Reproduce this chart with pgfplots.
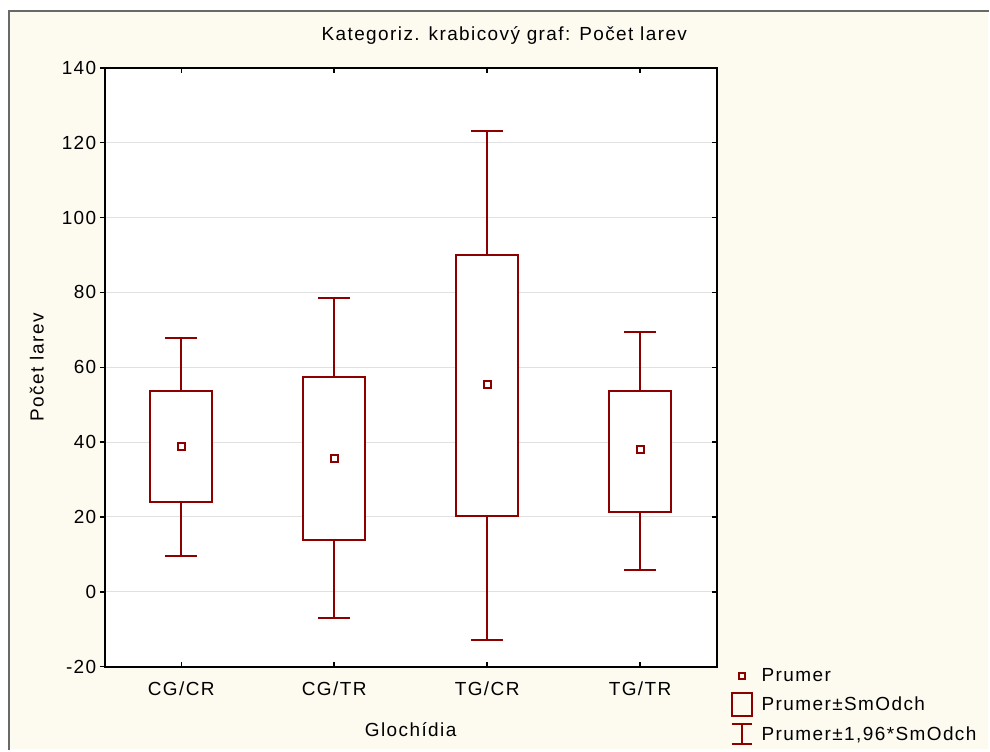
\documentclass[border=0pt]{standalone}
\usepackage{fontspec}
\setmainfont[LetterSpace=7.5]{Liberation Sans}
\usepackage{pgfplots}
\pgfplotsset{compat=1.18}
\definecolor{dred}{RGB}{140,0,0}
\definecolor{cream}{RGB}{253,250,240}
\definecolor{framec}{RGB}{105,105,105}
\definecolor{gridc}{RGB}{225,225,225}
\newcommand\ff{\fontsize{19}{23}\selectfont}
\begin{document}
\begin{tikzpicture}
\fill[white] (-105pt,-83pt) rectangle (885pt,668pt);
\fill[cream] (-96pt,-83pt) rectangle (885pt,657pt);
\draw[framec, line width=2pt] (-96pt,-84pt) -- (-96pt,657pt) -- (886pt,657pt);
\begin{axis}[
  at={(0pt,0pt)}, anchor=south west,
  scale only axis, width=613pt, height=600pt,
  xmin=-0.5, xmax=3.5, ymin=-20, ymax=140,
  xtick={0,1,2,3}, xticklabels={CG/CR,CG/TR,TG/CR,TG/TR},
  ytick={-20,0,20,40,60,80,100,120,140},
  ytick pos=left,
  ymajorgrids, grid style={gridc, line width=1pt},
  axis line style={black, line width=2pt},
  axis background/.style={fill=white},
  tick style={black, line width=1.5pt},
  major tick length=5pt,
  xtick align=inside, ytick align=outside,
  unbounded coords=jump,
  /pgf/number format/assume math mode=true,
  tick label style={font=\ff},
  xticklabel style={anchor=base, yshift=-29pt},
  title={Kategoriz. krabicový graf: Počet larev},
  title style={font=\ff, at={(0.653,1)}, anchor=base, yshift=21pt},
  xlabel={Glochídia},
  xlabel style={font=\ff, at={(0.5,0)}, anchor=base, yshift=-70pt},
  ylabel={Počet larev},
  ylabel style={font=\ff, at={(-0.111,0.5)}, anchor=center},
  legend style={font=\ff, draw=none, fill=none, at={(1.0228,0)}, anchor=north west,
    inner sep=0pt, row sep=6.5pt, column sep=7pt, nodes={inner sep=2pt}},
  legend cell align=left,
]
% whiskers (Prumer +- 1.96*SmOdch)
\addplot[dred, line width=2pt, mark=none, forget plot] coordinates {
 (0,9.5) (0,67.8) (0,nan) (-0.105,67.8) (0.105,67.8) (0,nan) (-0.105,9.5) (0.105,9.5) (0,nan)
 (1,-6.9) (1,78.4) (1,nan) (0.895,78.4) (1.105,78.4) (1,nan) (0.895,-6.9) (1.105,-6.9) (1,nan)
 (2,-12.8) (2,123.1) (2,nan) (1.895,123.1) (2.105,123.1) (2,nan) (1.895,-12.8) (2.105,-12.8) (2,nan)
 (3,5.9) (3,69.3) (3,nan) (2.895,69.3) (3.105,69.3) (3,nan) (2.895,5.9) (3.105,5.9)
};
% boxes (Prumer +- SmOdch)
\addplot[draw=dred, fill=white, line width=2pt, mark=none, forget plot] coordinates {
 (-0.2025,23.9) (0.2025,23.9) (0.2025,53.6) (-0.2025,53.6) (-0.2025,23.9) (0.2025,23.9)};
\addplot[draw=dred, fill=white, line width=2pt, mark=none, forget plot] coordinates {
 (0.7975,13.9) (1.2025,13.9) (1.2025,57.3) (0.7975,57.3) (0.7975,13.9) (1.2025,13.9)};
\addplot[draw=dred, fill=white, line width=2pt, mark=none, forget plot] coordinates {
 (1.7975,20.3) (2.2025,20.3) (2.2025,89.9) (1.7975,89.9) (1.7975,20.3) (2.2025,20.3)};
\addplot[draw=dred, fill=white, line width=2pt, mark=none, forget plot] coordinates {
 (2.7975,21.3) (3.2025,21.3) (3.2025,53.6) (2.7975,53.6) (2.7975,21.3) (3.2025,21.3)};
% means
\addplot[only marks, mark=square, mark size=3.5pt, mark options={draw=dred, line width=2pt, fill=white}, forget plot]
  coordinates {(0,38.7) (1,35.6) (2,55.5) (3,38.1)};
\addlegendimage{legend image code/.code={\path[draw=none, fill=none] (0pt,0pt) rectangle (18pt,0.1pt); \draw[dred, line width=2pt] (6pt,-3pt) rectangle (12pt,3pt);}}
\addlegendentry{Prumer}
\addlegendimage{legend image code/.code={\draw[dred, line width=2pt] (-1pt,-11.5pt) rectangle (19pt,11.5pt);}}
\addlegendentry{Prumer±SmOdch}
\addlegendimage{legend image code/.code={\draw[dred, line width=2pt] (9pt,-10pt) -- (9pt,10pt) (-1pt,-10pt) -- (19pt,-10pt) (-1pt,10pt) -- (19pt,10pt);}}
\addlegendentry{Prumer±1,96*SmOdch}
\end{axis}
% inward ticks on the right side
\begin{axis}[
  at={(0pt,0pt)}, anchor=south west,
  scale only axis, width=613pt, height=600pt,
  xmin=-0.5, xmax=3.5, ymin=-20, ymax=140,
  xtick=\empty,
  ytick={-20,0,20,40,60,80,100,120,140}, yticklabels={},
  ytick pos=right, tick align=inside,
  axis line style={draw=none},
  tick style={black, line width=1.5pt},
  major tick length=5pt,
]
\end{axis}
\end{tikzpicture}
\end{document}
